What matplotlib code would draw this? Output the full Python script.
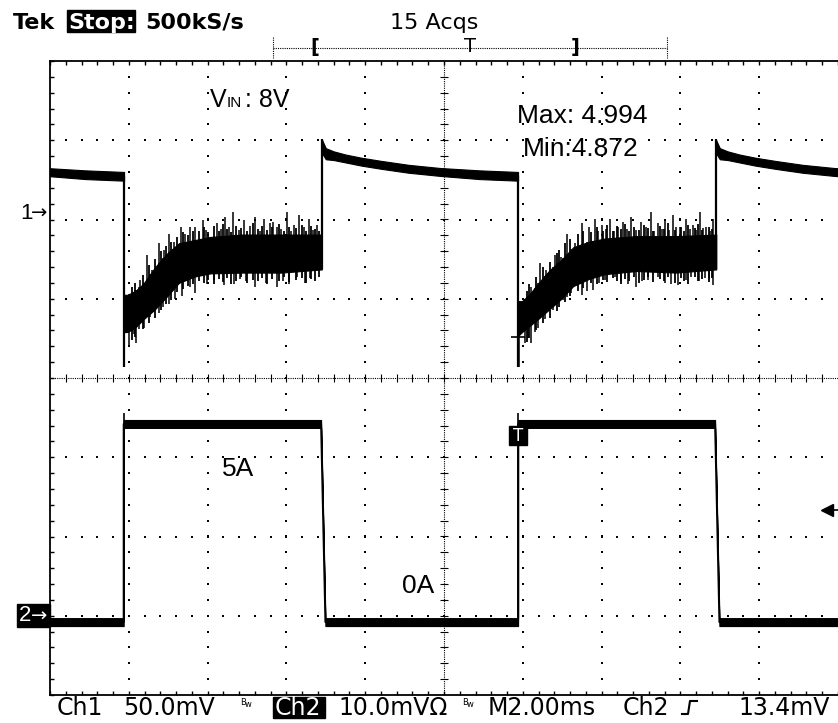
""" Tek scope capture: load transient, ch1 output ripple / ch2 load current """

import numpy as np
import matplotlib
matplotlib.use("Agg")
import matplotlib.pyplot as plt
from matplotlib.patches import Rectangle

# screen: 2 ms/div x 10 div, 8 div vertical (values below in divisions)
t_span = 20.0

# channel ground markers and trigger level (div from centre)
ch1_ground = 2.08
ch2_ground = -3.0
trig_level = -1.66

# load step times (ms)
drop_t = [1.87, 11.88]           # load on: ch2 goes high, ch1 drops
rise_t = [-3.10, 6.90, 16.90]    # load off: ch1 jumps up and settles

# ch1 after load off (time from step, upper / lower edge of trace)
settle_tau = [0.0, 0.1, 0.3, 0.6, 1.0, 1.5, 2.2, 3.0, 4.0, 4.98]
settle_hi = [3.01, 2.90, 2.86, 2.82, 2.78, 2.74, 2.69, 2.65, 2.62, 2.60]
settle_lo = [2.84, 2.76, 2.75, 2.72, 2.68, 2.64, 2.59, 2.55, 2.51, 2.49]

# ch1 after load on, dense noise band (time from step)
body_tau = [0.0, 0.1, 0.3, 0.5, 0.8, 1.1, 1.4, 1.8, 2.2, 3.0, 4.0, 5.03]
body_hi = [[1.05, 1.05, 1.10, 1.19, 1.40, 1.57, 1.70, 1.74, 1.78, 1.81, 1.81, 1.81],
           [0.97, 0.97, 1.06, 1.19, 1.36, 1.49, 1.65, 1.72, 1.76, 1.79, 1.79, 1.81]]
body_lo = [[0.58, 0.58, 0.64, 0.74, 0.87, 1.03, 1.20, 1.28, 1.32, 1.33, 1.33, 1.37],
           [0.53, 0.58, 0.66, 0.74, 0.87, 1.00, 1.16, 1.25, 1.31, 1.35, 1.33, 1.37]]

# large noise spikes above the band
up_tau = [[0.42, 0.58, 0.72, 0.89, 1.02, 1.14, 1.27, 1.46, 1.55, 1.69, 1.82, 2.01, 2.10,
           2.20, 2.37, 2.48, 2.58, 2.68, 2.77, 2.92, 3.05, 3.20, 3.34, 3.45, 3.57, 3.72,
           3.80, 3.89, 4.00, 4.15, 4.25, 4.32, 4.46, 4.58, 4.70, 4.80, 4.91],
          [0.34, 0.55, 0.72, 0.93, 1.10, 1.25, 1.44, 1.62, 1.79, 1.95, 2.12, 2.33, 2.54,
           2.66, 2.86, 3.00, 3.13, 3.37, 3.55, 3.74, 3.93, 4.10, 4.27, 4.44, 4.61, 4.78,
           4.95, 2.02, 2.22, 2.44, 2.76, 3.25, 3.46, 3.65, 3.84, 4.02, 4.36, 4.52, 4.70, 4.87]]
up_val = [[1.24, 1.55, 1.36, 1.70, 1.61, 1.82, 1.72, 1.91, 1.82, 1.91, 1.91, 1.99, 1.87,
           1.78, 1.95, 1.88, 2.03, 1.90, 2.10, 1.87, 1.99, 1.92, 2.03, 1.86, 2.01, 1.95,
           1.97, 1.91, 1.88, 2.10, 1.86, 1.93, 2.06, 1.90, 2.01, 1.87, 1.93],
          [1.15, 1.45, 1.36, 1.55, 1.53, 1.82, 1.70, 1.95, 1.91, 2.01, 1.93, 2.01, 1.91,
           1.97, 2.03, 1.87, 1.97, 2.10, 1.95, 1.99, 2.06, 1.91, 2.01, 1.93, 2.10, 1.91,
           2.01, 1.85, 1.88, 1.86, 1.88, 1.90, 1.86, 1.88, 1.87, 1.90, 1.88, 1.87, 1.89, 1.86]]

# large noise spikes below the band
dn_tau = [[0.02, 0.13, 0.25, 0.32, 0.40, 0.51, 0.68, 0.89, 1.00, 1.14, 1.30, 1.48, 1.69,
           1.82, 2.12, 2.30, 2.54, 2.79, 2.95, 3.10, 3.34, 3.60, 3.89, 4.05, 4.19, 4.40,
           4.60, 4.74, 4.95],
          [0.02, 0.17, 0.32, 0.51, 0.68, 0.89, 1.14, 1.35, 1.61, 1.90, 2.20, 2.45, 2.79,
           3.00, 3.30, 3.55, 3.89, 4.06, 4.40, 4.74, 4.95, 0.25, 0.42, 1.00, 1.25, 1.75,
           2.05, 2.62, 3.15, 3.72, 4.25, 4.58, 4.85]]
dn_val = [[0.14, 0.40, 0.55, 0.44, 0.62, 0.63, 0.77, 0.82, 0.90, 0.94, 1.00, 1.03, 1.15,
           1.07, 1.19, 1.24, 1.17, 1.19, 1.25, 1.22, 1.15, 1.20, 1.15, 1.22, 1.19, 1.28,
           1.20, 1.26, 1.36],
          [0.14, 0.44, 0.44, 0.63, 0.75, 0.86, 0.98, 1.07, 1.05, 1.11, 1.24, 1.28, 1.19,
           1.15, 1.24, 1.28, 1.19, 1.17, 1.28, 1.26, 1.17, 0.50, 0.58, 0.93, 1.02, 1.10,
           1.20, 1.22, 1.22, 1.20, 1.24, 1.22, 1.25]]

# smaller, denser spikes (tops and bottoms) filling out the band
fine_tau = [[0.20, 0.30, 0.50, 0.65, 0.80, 0.95, 1.08, 1.20, 1.35, 1.50, 1.62, 1.75, 1.90,
             2.05, 2.15, 2.28, 2.42, 2.53, 2.63, 2.72, 2.85, 2.98, 3.12, 3.27, 3.40, 3.52,
             3.64, 3.77, 3.94, 4.08, 4.20, 4.38, 4.52, 4.64, 4.75, 4.86, 4.97],
            [0.22, 0.28, 0.46, 0.62, 0.82, 0.98, 1.05, 1.18, 1.32, 1.52, 1.66, 1.85, 2.00,
             2.16, 2.26, 2.40, 2.50, 2.60, 2.72, 2.82, 2.95, 3.08, 3.20, 3.30, 3.42, 3.60,
             3.70, 3.80, 3.98, 4.14, 4.22, 4.32, 4.48, 4.56, 4.68, 4.84, 4.92]]
fine_top = [[1.15, 1.20, 1.30, 1.42, 1.50, 1.60, 1.66, 1.72, 1.78, 1.84, 1.80, 1.86, 1.85,
             1.90, 1.84, 1.92, 1.86, 1.94, 1.88, 1.84, 1.92, 1.89, 1.86, 1.95, 1.88, 1.92,
             1.87, 1.90, 1.94, 1.86, 1.91, 1.89, 1.93, 1.86, 1.92, 1.88, 1.85],
            [1.10, 1.18, 1.28, 1.40, 1.46, 1.58, 1.62, 1.70, 1.76, 1.82, 1.86, 1.84, 1.90,
             1.86, 1.93, 1.85, 1.92, 1.88, 1.94, 1.86, 1.90, 1.87, 1.93, 1.89, 1.85, 1.92,
             1.88, 1.95, 1.87, 1.90, 1.86, 1.93, 1.89, 1.94, 1.87, 1.91, 1.88]]
fine_bot = [[0.48, 0.52, 0.62, 0.70, 0.76, 0.86, 0.94, 0.98, 1.08, 1.12, 1.16, 1.18, 1.22,
             1.20, 1.24, 1.18, 1.25, 1.21, 1.26, 1.19, 1.23, 1.27, 1.20, 1.24, 1.22, 1.26,
             1.19, 1.25, 1.22, 1.27, 1.21, 1.24, 1.26, 1.20, 1.25, 1.23, 1.28],
            [0.46, 0.50, 0.60, 0.70, 0.76, 0.84, 0.90, 0.96, 1.04, 1.10, 1.14, 1.20, 1.18,
             1.24, 1.21, 1.26, 1.22, 1.19, 1.25, 1.23, 1.28, 1.20, 1.24, 1.27, 1.21, 1.25,
             1.22, 1.28, 1.20, 1.26, 1.23, 1.19, 1.27, 1.22, 1.25, 1.21, 1.26]]

# ch2 load current (step trace)
ch2_t = [0.0, 1.87, 1.87, 6.88, 6.99, 11.88, 11.88, 16.88, 16.99, 20.0]
ch2_lv = [-3.08, -3.08, -0.58, -0.58, -3.08, -3.08, -0.58, -0.58, -3.08, -3.08]
ch2_edge_top = -0.44

cursor = (11.88, 0.52)

ui = ["DejaVu Sans"]
ann = ["Liberation Sans", "DejaVu Sans"]

fig = plt.figure(figsize=(8.38, 7.23), dpi=100, facecolor="white")
ax = fig.add_axes([50 / 838, 28 / 723, 788 / 838, 634 / 723])
ax.set_xlim(0, t_span)
ax.set_ylim(-4, 4)

# graticule
minor_x = np.arange(0.4, t_span, 0.4)
minor_y = np.arange(-3.8, 3.9, 0.2)
for gx in np.arange(2, t_span, 2):
    if gx == 10:
        continue
    ax.scatter(np.full_like(minor_y, gx), minor_y, s=2.2, marker="s", c="k", lw=0, zorder=1)
for gy in [-3, -2, -1, 1, 2, 3]:
    ax.scatter(minor_x, np.full_like(minor_x, gy), s=2.2, marker="s", c="k", lw=0, zorder=1)
ax.axvline(10, ls=(0, (1, 1)), lw=0.8, color="k", zorder=1)
ax.axhline(0, ls=(0, (1, 1)), lw=0.8, color="k", zorder=1)
ax.plot(np.full_like(minor_y, 10), minor_y, ls="none", marker="_", ms=6, mew=0.8, color="k")
ax.plot(minor_x, np.zeros_like(minor_x), ls="none", marker="|", ms=6, mew=0.8, color="k")

ax.set_xticks(np.arange(0, t_span + 0.01, 2))
ax.set_xticks(minor_x, minor=True)
ax.set_yticks(np.arange(-4, 4.01, 1))
ax.set_yticks(minor_y, minor=True)
ax.tick_params(which="both", direction="in", length=3, width=1, top=True, right=False,
               labelbottom=False, labelleft=False)
for s in ["top", "left", "bottom"]:
    ax.spines[s].set_linewidth(1.3)
ax.spines["right"].set_visible(False)

# ch1: settling after load off
for r in rise_t:
    ax.fill_between(r + np.array(settle_tau), settle_lo, settle_hi, color="k", lw=0.8, zorder=3)

# ch1: drop and noisy recovery after load on
for i, d in enumerate(drop_t):
    tb = d + np.array(body_tau)
    ax.fill_between(tb, body_lo[i], body_hi[i], color="k", lw=0.8, zorder=3)
    ut = np.array(up_tau[i])
    ax.vlines(d + ut, np.interp(ut, body_tau, body_lo[i]), up_val[i], color="k", lw=1.1, zorder=3)
    dt = np.array(dn_tau[i])
    ax.vlines(d + dt, dn_val[i], np.interp(dt, body_tau, body_hi[i]), color="k", lw=1.1, zorder=3)
    ft = np.array(fine_tau[i])
    ax.vlines(d + ft, fine_bot[i], fine_top[i], color="k", lw=1.3, zorder=3)
    ax.vlines(d, min(dn_val[i]), settle_lo[-1] + 0.06, color="k", lw=1.6, zorder=3)
    ax.vlines(rise_t[i + 1], body_lo[i][-1], settle_hi[0], color="k", lw=1.6, zorder=3)

ax.plot(*cursor, marker="+", ms=10, mew=1.2, color="k", zorder=4)

# ch2
lv = np.array(ch2_lv)
ax.fill_between(ch2_t, lv - 0.05, lv + 0.05, color="k", lw=0.8, zorder=3)
ax.plot(ch2_t, ch2_lv, color="k", lw=1.4, zorder=3)
ax.vlines(drop_t, min(ch2_lv), ch2_edge_top, color="k", lw=1.2, zorder=3)

# trigger position marker
tt = drop_t[1]
ax.add_patch(Rectangle((tt - 0.23, -0.84), 0.46, 0.23, color="k", zorder=5))
ax.text(tt, -0.73, "T", color="white", fontsize=12, ha="center", va="center",
        family=ui, zorder=6)

# channel markers
yt = ax.get_yaxis_transform()
ax.text(-30 / 788, ch1_ground, "1", transform=yt, ha="left", va="center",
        fontsize=16, family=ann, clip_on=False)
ax.text(-19 / 788, ch1_ground, "\u2192", transform=yt, ha="left", va="center",
        fontsize=14, family=ui, clip_on=False)
ax.add_patch(Rectangle((-33 / 788, ch2_ground - 0.145), 33 / 788, 0.29, transform=yt,
                       color="k", clip_on=False))
ax.text(-31 / 788, ch2_ground, "2", transform=yt, ha="left", va="center",
        fontsize=16, family=ann, color="white", clip_on=False)
ax.text(-19 / 788, ch2_ground, "\u2192", transform=yt, ha="left", va="center",
        fontsize=14, family=ui, color="white", clip_on=False)
ax.plot([19.72, 20.0], [trig_level, trig_level], color="k", lw=1.2, clip_on=False)
ax.plot(19.72, trig_level, marker="<", ms=9, color="k", clip_on=False)

# overlay in pixel coords for the screen texts
ov = fig.add_axes([0, 0, 1, 1])
ov.set_xlim(0, 838)
ov.set_ylim(723, 0)
ov.axis("off")

ov.text(13, 29, "Tek", fontsize=16, fontweight="bold", family=ui)
ov.add_patch(Rectangle((67, 10), 68, 22, color="k"))
ov.text(68, 29, "Stop:", fontsize=16, fontweight="bold", family=ui, color="white")
ov.text(145, 29, "500kS/s", fontsize=16, fontweight="bold", family=ui)
ov.text(390, 29, "15 Acqs", fontsize=16, family=ui)

# record position bar
ov.plot([273, 667], [48, 48], ls=(0, (1, 1)), lw=0.8, color="k")
ov.plot([273, 273], [37, 58], ls=(0, (1, 1)), lw=0.8, color="k")
ov.plot([667, 667], [37, 58], ls=(0, (1, 1)), lw=0.8, color="k")
ov.text(315, 48, "[", fontsize=14, fontweight="bold", family=ui, ha="center", va="center")
ov.text(470, 46, "T", fontsize=14, family=ui, ha="center", va="center")
ov.text(575, 48, "]", fontsize=14, fontweight="bold", family=ui, ha="center", va="center")

# annotations
ov.text(210, 107, "V", fontsize=18, family=ann)
ov.text(227, 107, "IN", fontsize=11, family=ann)
ov.text(245, 107, ": 8V", fontsize=18, family=ann)
ov.text(517, 123, "Max: 4.994", fontsize=19, family=ann)
ov.text(523, 156, "Min:4.872", fontsize=19, family=ann)
ov.text(222, 476, "5A", fontsize=19, family=ann)
ov.text(402, 593, "0A", fontsize=19, family=ann)

# bottom status line
ov.text(57, 715, "Ch1", fontsize=17, family=ui)
ov.text(123, 715, "50.0mV", fontsize=17, family=ui)
ov.text(240, 705, "B", fontsize=6, family=ui)
ov.text(245, 707, "w", fontsize=6, family=ui)
ov.add_patch(Rectangle((273, 697), 52, 21, color="k"))
ov.text(275, 715, "Ch2", fontsize=17, family=ui, color="white")
ov.text(338, 715, "10.0mV\u03a9", fontsize=17, family=ui)
ov.text(462, 705, "B", fontsize=6, family=ui)
ov.text(467, 707, "w", fontsize=6, family=ui)
ov.text(488, 715, "M2.00ms", fontsize=17, family=ui)
ov.text(623, 715, "Ch2", fontsize=17, family=ui)
ov.plot([682, 688, 690, 697], [714, 714, 701, 701], color="k", lw=1.5)
ov.text(738, 715, "13.4mV", fontsize=17, family=ui)

fig.savefig("out.png", dpi=100, facecolor="white")
